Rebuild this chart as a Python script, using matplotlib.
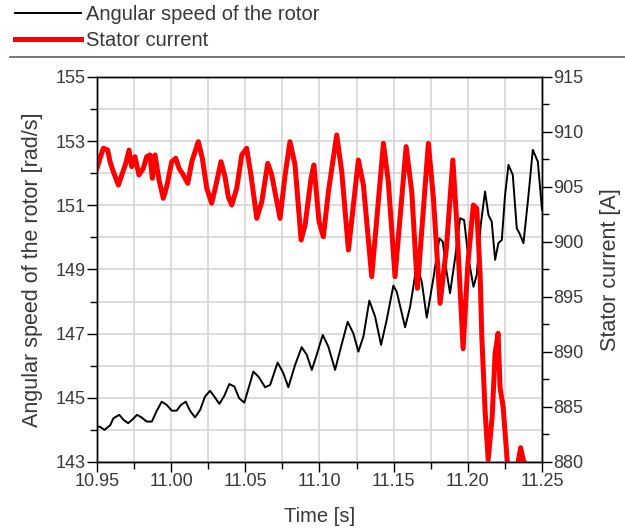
import numpy as np
import matplotlib.pyplot as plt
from matplotlib.lines import Line2D
from matplotlib.ticker import MultipleLocator, FormatStrFormatter

plt.rcParams['font.family'] = ['Liberation Sans', 'DejaVu Sans']

# Angular speed of the rotor [rad/s] (left axis)
t_speed = [10.9500, 10.9520, 10.9550, 10.9590, 10.9610, 10.9650, 10.9680,
           10.9710, 10.9740, 10.9770, 10.9800, 10.9835, 10.9870, 10.9900,
           10.9936, 10.9970, 11.0004, 11.0037, 11.0066, 11.0098, 11.0127,
           11.0161, 11.0195, 11.0228, 11.0262, 11.0291, 11.0325, 11.0358,
           11.0392, 11.0426, 11.0458, 11.0493, 11.0525, 11.0554, 11.0592,
           11.0633, 11.0667, 11.0718, 11.0756, 11.0790, 11.0835, 11.0880,
           11.0914, 11.0948, 11.0981, 11.1022, 11.1060, 11.1105, 11.1145,
           11.1190, 11.1228, 11.1262, 11.1296, 11.1336, 11.1375, 11.1415,
           11.1453, 11.1498, 11.1521, 11.1577, 11.1611, 11.1656, 11.1690,
           11.1723, 11.1768, 11.1808, 11.1831, 11.1853, 11.1880, 11.1914,
           11.1948, 11.1975, 11.2004, 11.2038, 11.2060, 11.2087, 11.2116,
           11.2139, 11.2161, 11.2184, 11.2206, 11.2229, 11.2251, 11.2274,
           11.2303, 11.2330, 11.2348, 11.2375, 11.2408, 11.2438, 11.2472,
           11.2500]
speed = [144.10, 144.10, 144.00, 144.15, 144.36, 144.47, 144.31,
         144.21, 144.33, 144.47, 144.39, 144.26, 144.26, 144.57,
         144.88, 144.78, 144.60, 144.60, 144.78, 144.88, 144.60,
         144.39, 144.62, 145.04, 145.22, 145.04, 144.81, 145.06,
         145.43, 145.35, 144.99, 144.85, 145.35, 145.82, 145.64,
         145.33, 145.40, 146.10, 145.77, 145.33, 146.02, 146.58,
         146.34, 145.87, 146.34, 146.96, 146.59, 145.87, 146.59,
         147.37, 147.01, 146.44, 146.91, 148.03, 147.53, 146.65,
         147.43, 148.50, 148.30, 147.20, 147.84, 149.15, 148.60,
         147.50, 148.73, 149.97, 149.87, 149.04, 148.26, 149.35,
         150.60, 150.54, 149.35, 148.46, 148.83, 150.39, 151.43,
         150.70, 150.49, 149.30, 149.82, 149.92, 151.32, 152.26,
         151.95, 150.28, 150.13, 149.82, 151.27, 152.73, 152.36,
         150.86]

# Stator current [A] (right axis)
t_current = [10.9500, 10.9520, 10.9543, 10.9572, 10.9588, 10.9610, 10.9644,
             10.9667, 10.9694, 10.9716, 10.9734, 10.9756, 10.9783, 10.9812,
             10.9835, 10.9857, 10.9873, 10.9891, 10.9918, 10.9947, 10.9970,
             11.0004, 11.0031, 11.0053, 11.0082, 11.0112, 11.0139, 11.0183,
             11.0210, 11.0240, 11.0273, 11.0307, 11.0336, 11.0363, 11.0385,
             11.0408, 11.0442, 11.0476, 11.0509, 11.0538, 11.0577, 11.0611,
             11.0651, 11.0678, 11.0734, 11.0768, 11.0801, 11.0835, 11.0876,
             11.0903, 11.0943, 11.0962, 11.0997, 11.1026, 11.1060, 11.1116,
             11.1150, 11.1195, 11.1262, 11.1296, 11.1352, 11.1431, 11.1464,
             11.1509, 11.1584, 11.1622, 11.1660, 11.1734, 11.1768, 11.1813,
             11.1856, 11.1899, 11.1926, 11.1968, 11.2000, 11.2037, 11.2060,
             11.2083, 11.2094, 11.2116, 11.2137, 11.2164, 11.2184, 11.2204,
             11.2217, 11.2238, 11.2265, 11.2290, 11.2339, 11.2356, 11.2373,
             11.2400, 11.2430, 11.2500]
current = [906.70, 907.61, 908.52, 908.36, 907.30, 906.39, 905.18,
           906.09, 907.15, 908.36, 906.85, 907.75, 906.09, 906.70,
           907.75, 907.91, 905.79, 907.91, 905.64, 903.97, 905.03,
           907.30, 907.61, 906.70, 906.09, 905.33, 907.30, 909.12,
           907.61, 904.88, 903.52, 905.48, 907.30, 905.94, 904.12,
           903.36, 904.88, 907.91, 908.52, 906.09, 902.15, 903.67,
           907.15, 906.09, 902.15, 906.09, 909.12, 907.00, 900.18,
           901.55, 905.79, 907.00, 901.85, 900.48, 904.57, 909.73,
           906.39, 899.27, 907.45, 905.18, 896.85, 908.97, 905.48,
           896.85, 908.67, 904.57, 895.79, 908.97, 903.97, 894.43,
           899.50, 907.45, 901.55, 890.30, 898.00, 903.36, 903.06,
           897.00, 891.50, 884.70, 880.20, 884.10, 889.90, 891.70,
           886.80, 885.00, 880.20, 876.00, 880.00, 881.30, 880.20,
           879.50, 877.00, 876.00]

txt = '#383838'
fig = plt.figure(figsize=(6.25, 5.28), dpi=100)
ax = fig.add_axes([0.1552, 0.125, 0.712, 0.7292])
ax2 = ax.twinx()

l1, = ax.plot(t_speed, speed, color='black', lw=1.4)
l2, = ax2.plot(t_current, current, color='#ff0000', lw=3.6)

ax.set_xlim(10.95, 11.25)
ax.set_ylim(143, 155)
ax2.set_ylim(880, 915)

ax.xaxis.set_major_locator(MultipleLocator(0.05))
ax.xaxis.set_minor_locator(MultipleLocator(0.025))
ax.xaxis.set_major_formatter(FormatStrFormatter('%.2f'))
ax.yaxis.set_major_locator(MultipleLocator(2, offset=1))
ax.yaxis.set_minor_locator(MultipleLocator(1))
ax2.yaxis.set_major_locator(MultipleLocator(5))
ax2.yaxis.set_minor_locator(MultipleLocator(2.5))

ax.grid(True, which='both', color='#d6d6d6', lw=1.2)
ax.set_axisbelow(True)

for a in (ax, ax2):
    a.tick_params(which='major', direction='out', length=7, width=1,
                  labelsize=13, labelcolor=txt, pad=1)
    a.tick_params(which='minor', direction='out', length=5, width=1)
    for s in a.spines.values():
        s.set_color('black')
        s.set_linewidth(1)

ax.set_xlabel('Time [s]', fontsize=14.5, color=txt, labelpad=12)
ax.set_ylabel('Angular speed of the rotor [rad/s]', fontsize=15.5, color=txt,
              labelpad=9)
ax2.set_ylabel('Stator current [A]', fontsize=15.5, color=txt, labelpad=12)

fig.legend([l1, l2], ['Angular speed of the rotor', 'Stator current'],
           loc='upper left', bbox_to_anchor=(0.024, 0.99), frameon=False,
           borderaxespad=0, borderpad=0, fontsize=14.5, handlelength=3.3,
           labelspacing=0.35, handletextpad=0.25, labelcolor=txt)
fig.add_artist(Line2D([0.016, 1.0], [1 - 57 / 528] * 2, color='#606060', lw=1.2))

fig.savefig('out.png', dpi=100)
